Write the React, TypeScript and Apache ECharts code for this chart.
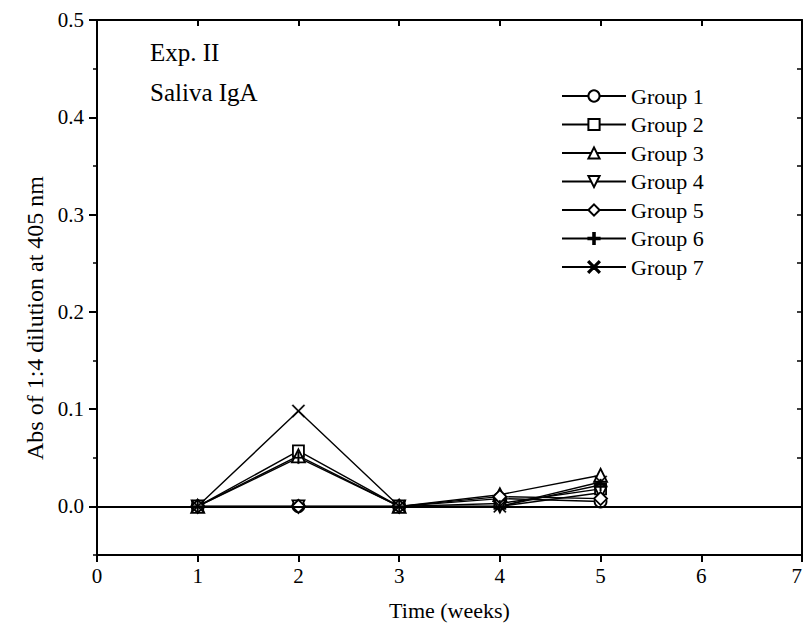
import React, { useEffect, useRef } from "react";
import * as echarts from "echarts";

const weeks = [1, 2, 3, 4, 5];
const groupNames = ["Group 1", "Group 2", "Group 3", "Group 4", "Group 5", "Group 6", "Group 7"];
const group1 = [0, 0, 0, 0.008, 0.005];
const group2 = [0, 0.057, 0, 0.003, 0.018];
const group3 = [0, 0.052, 0, 0.012, 0.032];
const group4 = [0, 0, 0, 0, 0.014];
const group5 = [0, 0, 0, 0.01, 0.008];
const group6 = [0, 0.05, 0, 0, 0.022];
const group7 = [0, 0.098, 0, 0, 0.025];
const groupValues = [group1, group2, group3, group4, group5, group6, group7];
const yLabels = [0, 0.1, 0.2, 0.3, 0.4, 0.5];
const xLabels = [0, 1, 2, 3, 4, 5, 6];
const xLastLabel = [7];

const FONT = "'Liberation Serif', 'Times New Roman', serif";

const symbols = [
  "circle",
  "rect",
  "triangle",
  "path://M0,0L10,0L5,9Z",
  "path://M5,0L10,5L5,10L0,5Z",
  "path://M4.3,0H5.7V4.3H10V5.7H5.7V10H4.3V5.7H0V4.3H4.3Z",
  "path://M0,0.8L0.8,0L5,4.2L9.2,0L10,0.8L5.8,5L10,9.2L9.2,10L5,5.8L0.8,10L0,9.2L4.2,5Z",
];
const filled = [false, false, false, false, false, true, true];
const sizes = [12, 11, 13, 12, 13, 12, 13];

export default function App() {
  const ref = useRef<HTMLDivElement>(null);
  useEffect(() => {
    if (!ref.current) return;
    document.body.style.margin = "0";
    const chart = echarts.init(ref.current, null, { renderer: "svg" });
    const series: any[] = groupNames.map((name, i) => ({
      name,
      type: "line",
      xAxisIndex: 0,
      yAxisIndex: 0,
      data: weeks.map((w, j) => [w, groupValues[i][j]]),
      symbol: symbols[i],
      symbolSize: sizes[i],
      showAllSymbol: true,
      lineStyle: { color: "#000", width: 1.4 },
      itemStyle: {
        color: filled[i] ? "#000" : "#fff",
        borderColor: "#000",
        borderWidth: filled[i] ? 0.3 : 1.8,
      },
      z: 3,
      ...(i === 0
        ? {
            markLine: {
              silent: true,
              symbol: "none",
              label: { show: false },
              lineStyle: { color: "#000", width: 1.8, type: "solid" },
              data: [{ yAxis: 0 }],
            },
          }
        : {}),
    }));

    const hiddenAxisParts = {
      axisLine: { show: false, onZero: false },
      axisTick: { show: false },
      splitLine: { show: false },
    };

    chart.setOption({
      animation: false,
      backgroundColor: "#fff",
      grid: { left: 97, right: 2, top: 20, bottom: 85, containLabel: false },
      legend: {
        orient: "vertical",
        left: 556,
        top: 80,
        itemWidth: 64,
        itemHeight: 14,
        itemGap: 6.5,
        data: groupNames,
        textStyle: { fontFamily: FONT, fontSize: 22, color: "#000", lineHeight: 20 },
        inactiveColor: "#000",
      },
      xAxis: [
        {
          type: "value",
          position: "bottom",
          min: 0,
          max: 7,
          interval: 1,
          name: "Time (weeks)",
          nameLocation: "middle",
          nameGap: 44,
          nameTextStyle: { fontFamily: FONT, fontSize: 22, color: "#000" },
          axisLine: { show: true, onZero: false, lineStyle: { color: "#000", width: 2 } },
          axisTick: { show: true, inside: false, length: 7, lineStyle: { color: "#000", width: 2 } },
          axisLabel: { fontFamily: FONT, fontSize: 21, color: "#000", margin: 10, customValues: xLabels },
          splitLine: { show: false },
        },
        {
          type: "value",
          position: "top",
          min: 0,
          max: 7,
          interval: 1,
          axisLine: { show: true, onZero: false, lineStyle: { color: "#000", width: 2 } },
          axisTick: { show: true, inside: true, length: 6, lineStyle: { color: "#000", width: 2 } },
          axisLabel: { show: false },
          splitLine: { show: false },
        },
        {
          type: "value",
          position: "bottom",
          min: 0,
          max: 7,
          interval: 1,
          ...hiddenAxisParts,
          axisLabel: {
            fontFamily: FONT,
            fontSize: 21,
            color: "#000",
            margin: 10,
            align: "right",
            customValues: xLastLabel,
          },
        },
      ],
      yAxis: [
        {
          type: "value",
          position: "left",
          min: -0.05,
          max: 0.5,
          interval: 0.05,
          axisLine: { show: true, onZero: false, lineStyle: { color: "#000", width: 2 } },
          axisTick: {
            show: true,
            inside: false,
            length: 8,
            customValues: yLabels,
            lineStyle: { color: "#000", width: 2 },
          },
          axisLabel: {
            fontFamily: FONT,
            fontSize: 21,
            color: "#000",
            margin: 13,
            customValues: yLabels,
            formatter: (v: number) => v.toFixed(1),
          },
          splitLine: { show: false },
        },
        {
          type: "value",
          position: "left",
          min: -0.05,
          max: 0.5,
          interval: 0.05,
          axisLine: { show: false, onZero: false },
          axisTick: { show: true, inside: false, length: 4, lineStyle: { color: "#000", width: 1.5 } },
          axisLabel: { show: false },
          splitLine: { show: false },
        },
        {
          type: "value",
          position: "right",
          min: -0.05,
          max: 0.5,
          interval: 0.05,
          axisLine: { show: true, onZero: false, lineStyle: { color: "#000", width: 2 } },
          axisTick: { show: true, inside: true, length: 5, lineStyle: { color: "#000", width: 1.5 } },
          axisLabel: { show: false },
          splitLine: { show: false },
        },
      ],
      graphic: [
        {
          type: "text",
          left: 150,
          top: 40,
          style: { text: "Exp. II", fontFamily: FONT, fontSize: 25, fill: "#000" },
        },
        {
          type: "text",
          left: 150,
          top: 80,
          style: { text: "Saliva IgA", fontFamily: FONT, fontSize: 25, fill: "#000" },
        },
        {
          type: "text",
          x: 35,
          y: 318,
          rotation: Math.PI / 2,
          style: {
            text: "Abs of 1:4 dilution at 405 nm",
            fontFamily: FONT,
            fontSize: 24,
            fill: "#000",
            align: "center",
            verticalAlign: "middle",
          },
        },
      ],
      series,
    });
    return () => chart.dispose();
  }, []);
  return <div ref={ref} style={{ width: 805, height: 640 }} />;
}
